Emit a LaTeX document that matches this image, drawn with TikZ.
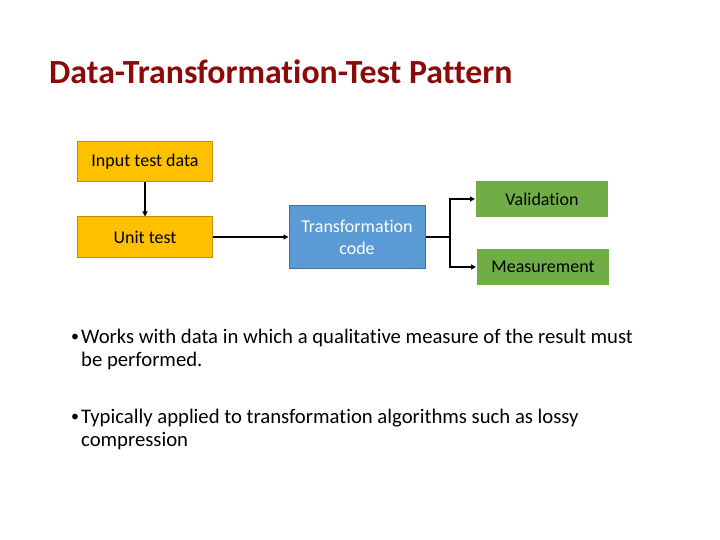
\documentclass[tikz,border=0pt]{standalone}
\usepackage{fontspec}
\setmainfont{Carlito}[RawFeature={-liga}]
\usetikzlibrary{arrows.meta}
\definecolor{titlered}{HTML}{8B0A0A}
\definecolor{boxorange}{HTML}{FFC000}
\definecolor{boxorangeline}{HTML}{C09000}
\definecolor{boxblue}{HTML}{5B9BD5}
\definecolor{boxblueline}{HTML}{41719C}
\definecolor{boxgreen}{HTML}{70AD47}
\tikzset{
  stepnode/.style={draw, line width=1pt, minimum width=#1, inner sep=2pt, font=\fontsize{18}{22}\selectfont},
  inputbox/.style={stepnode=135pt, fill=boxorange, draw=boxorangeline, minimum height=40pt},
  codebox/.style={stepnode=136pt, fill=boxblue, draw=boxblueline, minimum height=63pt, text=white, align=center},
  resultbox/.style={stepnode=133pt, fill=boxgreen, draw=white, minimum height=37pt},
  flow/.style={line width=1.5pt, -{Triangle[length=5pt,width=5pt]}},
  bullettext/.style={anchor=north west, align=left, inner sep=0pt, font=\fontsize{20.7}{22.5}\selectfont},
  bulletdot/.style={anchor=base west, inner sep=0pt, font=\fontsize{16}{18}\selectfont}
}
\begin{document}
\begin{tikzpicture}[x=1pt, y=-1pt]
  \useasboundingbox (0,0) rectangle (720,540);
  % title
  \node[anchor=base west, inner sep=0pt, text=titlered, font=\fontsize{33.8}{38}\selectfont\bfseries] (title) at (49,84) {Data-Transformation-Test Pattern};
  % boxes
  \node[inputbox] (input) at (145,162) {Input test data};
  \node[inputbox] (unit) at (145,237) {Unit test};
  \node[codebox] (code) at (357,237) {Transformation\\code};
  \node[resultbox] (valid) at (542,199) {Validation};
  \node[resultbox] (measure) at (543,267) {Measurement};
  \coordinate (split) at (450,237);
  % arrows
  \path[flow]
    (input) edge (unit)
    (unit) edge (code);
  \draw[line width=1.5pt] (code.east) -- (split);
  \draw[flow] (split) |- (valid.west);
  \draw[flow] (split) |- (measure.west);
  % bullets
  \node[bulletdot] (dot1) at (71,341) {•};
  \node[bullettext] (item1) at (81,329) {Works with data in which a qualitative measure of the result must\\be performed.};
  \node[bulletdot] (dot2) at (71,421) {•};
  \node[bullettext] (item2) at (81,409) {Typically applied to transformation algorithms such as lossy\\compression};
\end{tikzpicture}
\end{document}
